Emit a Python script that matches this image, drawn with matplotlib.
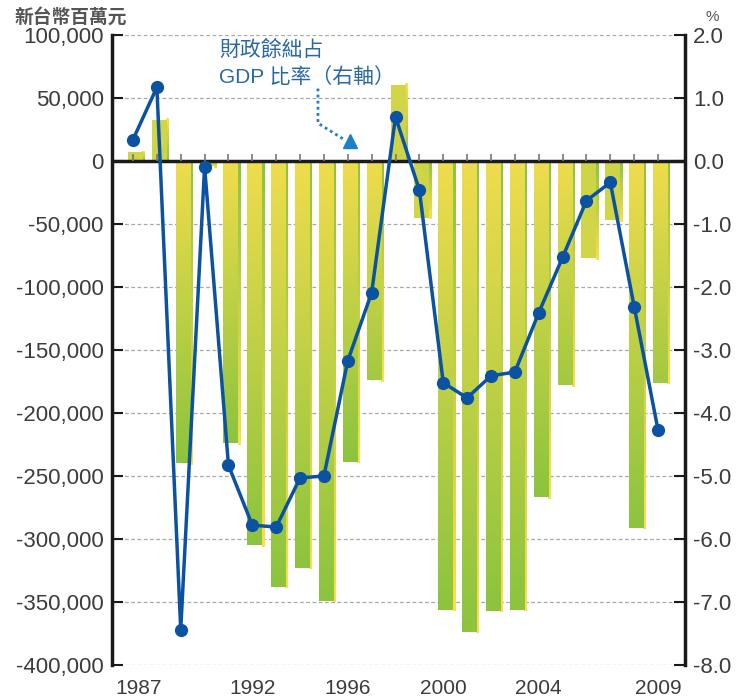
import numpy as np
import matplotlib
matplotlib.use("Agg")
import matplotlib.pyplot as plt
from matplotlib.transforms import ScaledTranslation

plt.rcParams['font.family'] = ['Liberation Sans', 'Noto Sans CJK TC', 'DejaVu Sans']

years = list(range(1987, 2010))
balance = [6500, 32500, -240000, -4000, -224000, -305000, -338000, -323000, -349000,
           -238500, -174000, 60000, -45000, -356000, -373500, -357000, -356000,
           -267000, -178000, -77000, -47000, -291000, -176000]
ratio = [0.34, 1.17, -7.44, -0.09, -4.83, -5.78, -5.81, -5.03, -5.00, -3.17,
         -2.09, 0.70, -0.46, -3.52, -3.76, -3.41, -3.35, -2.41, -1.53, -0.63,
         -0.34, -2.31, -4.27]
left_ticks = [100000, 50000, 0, -50000, -100000, -150000, -200000, -250000,
              -300000, -350000, -400000]
right_ticks = [2.0, 1.0, 0.0, -1.0, -2.0, -3.0, -4.0, -5.0, -6.0, -7.0, -8.0]
xlabel_years = [1987, 1992, 1996, 2000, 2004, 2009]

yellow = np.array([0xfa, 0xdf, 0x4e]) / 255
green = np.array([0x8c, 0xc4, 0x3e]) / 255

fig = plt.figure(figsize=(7.38, 6.99), dpi=100)
ax = fig.add_axes([112/738, 1-665/699, (685-112)/738, (665-35)/699])
ax.set_xlim(1986.12, 2010.13)
ax.set_ylim(-400000, 100000)

def grad(n, c0, c1):
    t = np.linspace(0, 1, n)[:, None]
    return c0[None, :] * (1 - t) + c1[None, :] * t

w = 0.62
off = 0.1
side = 0.08
for yr, v in zip(years, balance):
    t = min(1.0, max(0.35, abs(v) / 220000))
    far = yellow * (1 - t) + green * t
    near = yellow * 0.9 + green * 0.1 if abs(v) > 100000 else yellow * 0.6 + green * 0.4
    n = 64
    if v < 0:
        img = grad(n, near, far)
        side_img = grad(n, green, yellow)
    else:
        img = grad(n, far, near)
        side_img = grad(n, yellow, green)
    x0 = yr + off - w / 2
    lo, hi = min(v, 0), max(v, 0)
    ax.imshow(side_img[:, None, :], extent=(x0 + w - 0.02, x0 + w + side,
                                            lo - 1200 * (v < 0), hi + 1200 * (v > 0)),
              origin='upper', aspect='auto', interpolation='bilinear', zorder=2.5)
    ax.imshow(img[:, None, :], extent=(x0, x0 + w, lo, hi),
              origin='upper', aspect='auto', interpolation='bilinear', zorder=3)

ax.set_xlim(1986.12, 2010.13)
ax.set_ylim(-400000, 100000)

for yv in left_ticks:
    if yv != 0:
        ax.axhline(yv, color='#a8a8a8', lw=0.9, ls=(0, (3, 2)), zorder=1)
ax.axhline(0, color='#1a1a1a', lw=2.5, zorder=4)
ax.vlines(years, 0, 5200, color='#777777', lw=1.2, zorder=4)

ax.spines['top'].set_visible(False)
ax.spines['bottom'].set_visible(False)
ax.spines['right'].set_visible(False)
ax.spines['left'].set_linewidth(2.5)
ax.spines['left'].set_color('#1a1a1a')

ax.set_yticks(left_ticks)
ax.set_yticklabels([f"{v:,}" for v in left_ticks])
ax.tick_params(axis='y', direction='in', length=8, width=1.5, color='#1a1a1a',
               labelsize=16, labelcolor='#3c3c3c', pad=6)
ax.set_xticks(xlabel_years)
ax.set_xticklabels([str(y) for y in xlabel_years])
ax.tick_params(axis='x', length=0, labelsize=15, labelcolor='#3c3c3c', pad=10)
first = ax.get_xticklabels()[0]
first.set_transform(first.get_transform() + ScaledTranslation(6/100, 0, fig.dpi_scale_trans))

ax2 = ax.twinx()
ax2.set_ylim(-8.0, 2.0)
ax2.set_xlim(1986.12, 2010.13)
for s in ['top', 'bottom', 'left']:
    ax2.spines[s].set_visible(False)
ax2.spines['right'].set_linewidth(2.5)
ax2.spines['right'].set_color('#1a1a1a')
ax2.set_yticks(right_ticks)
ax2.set_yticklabels([f"{v:.1f}" for v in right_ticks])
ax2.tick_params(axis='y', direction='in', length=8, width=1.5, color='#1a1a1a',
                labelsize=16, labelcolor='#3c3c3c', pad=6)
ax2.plot(years, ratio, color='#0b52a2', lw=2.5, marker='o', markersize=8.5,
         markerfacecolor='#0b52a2', markeredgecolor='#0b52a2', zorder=5)

fig.text(15/738, 1-17/699, '新台幣百萬元', fontsize=13.5, color='#555555',
         fontweight='bold', va='center', ha='left', family=['Noto Sans CJK TC'])
fig.text(712/738, 1-17/699, '%', fontsize=11, color='#555555', va='center', ha='center')
ax.text(1990.6, 88000, '財政餘絀占', fontsize=15, color='#2a68a4', ha='left', va='center',
        family=['Noto Sans CJK TC', 'Liberation Sans'])
ax.text(1990.6, 67000, 'GDP 比率（右軸）', fontsize=15, color='#2a68a4', ha='left', va='center',
        family=['Liberation Sans', 'Noto Sans CJK TC'])
ax.plot([1994.75, 1994.75, 1995.85], [57500, 30000, 17000], color='#1f7fc6', lw=2,
        ls=(0, (1, 1.2)), zorder=6)
ax.plot([1996.1], [15500], marker='^', markersize=10, color='#1f7fc6', zorder=6)

fig.savefig('out.png', dpi=100)
